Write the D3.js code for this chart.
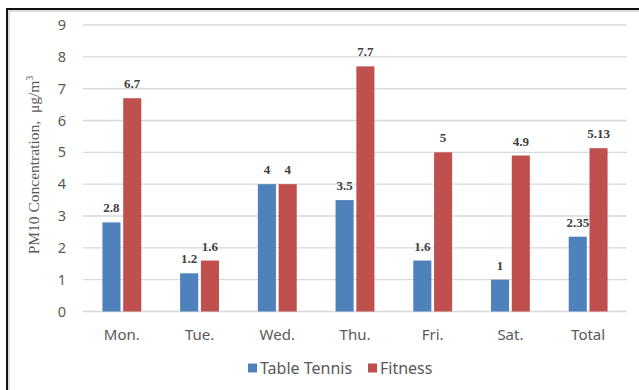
<!DOCTYPE html>
<html>

<head>
  <title>PM10 Concentration</title>
  <script src="https://cdn.jsdelivr.net/npm/d3@7"></script>
  <style>
    body {
      margin: 0;
      background: #fff;
    }

    .grid line {
      stroke: #d9d9d9;
      stroke-width: 1.3px;
    }

    .tick-label,
    .cat-label,
    .legend-label {
      font-family: "Noto Sans", "Open Sans", sans-serif;
      fill: #595959;
    }

    .bar-label {
      font-family: "Liberation Serif", "DejaVu Serif", serif;
      font-weight: bold;
      font-size: 13px;
      fill: #404040;
    }

    .y-title {
      font-family: "Liberation Serif", "DejaVu Serif", serif;
      font-size: 15.5px;
      fill: #595959;
    }
  </style>
</head>

<body>
  <div id="chart"></div>
  <script>
    const categories = ["Mon.", "Tue.", "Wed.", "Thu.", "Fri.", "Sat.", "Total"];
    const seriesNames = ["Table Tennis", "Fitness"];
    const tableTennis = [2.8, 1.2, 4, 3.5, 1.6, 1, 2.35];
    const fitness = [6.7, 1.6, 4, 7.7, 5, 4.9, 5.13];
    const yTicks = [0, 1, 2, 3, 4, 5, 6, 7, 8, 9];
    const colors = ["#4f81bd", "#c0504d"];

    const width = 639;
    const height = 390;

    const svg = d3.select("#chart").append("svg")
      .attr("width", width)
      .attr("height", height);

    // frame (only left and top edges are in view)
    svg.append("path")
      .attr("d", `M7,${height} V9 H${width}`)
      .attr("fill", "none")
      .attr("stroke", "#111")
      .attr("stroke-width", 2);
    svg.append("path")
      .attr("d", `M9,${height} V11 H${width}`)
      .attr("fill", "none")
      .attr("stroke", "#bbb")
      .attr("stroke-width", 1);

    const x = d3.scaleBand()
      .domain(categories)
      .range([83, 627])
      .paddingInner(0.5)
      .paddingOuter(0.25);

    const xs = d3.scaleBand()
      .domain(seriesNames)
      .range([0, x.bandwidth()])
      .paddingInner(0.13);

    const y = d3.scaleLinear()
      .domain([0, 9])
      .range([311.5, 25]);

    // gridlines
    svg.append("g")
      .attr("class", "grid")
      .selectAll("line")
      .data(yTicks)
      .enter().append("line")
      .attr("x1", 83)
      .attr("x2", 627)
      .attr("y1", d => y(d))
      .attr("y2", d => y(d));

    // y tick labels
    svg.append("g")
      .selectAll("text")
      .data(yTicks)
      .enter().append("text")
      .attr("class", "tick-label")
      .attr("x", 66)
      .attr("y", d => y(d))
      .attr("dy", "0.35em")
      .attr("text-anchor", "end")
      .attr("font-size", 14.5)
      .text(d => d);

    // y title
    svg.append("text")
      .attr("class", "y-title")
      .attr("transform", "translate(39,165) rotate(-90)")
      .attr("text-anchor", "middle")
      .call(t => {
        t.append("tspan").text("PM10 Concentration,\u00a0\u00a0μg/m");
        t.append("tspan").attr("font-size", 10).attr("dy", -6).text("3");
      });

    const rows = categories.map((c, i) => ({
      cat: c,
      values: [tableTennis[i], fitness[i]]
    }));

    const groups = svg.append("g")
      .selectAll("g")
      .data(rows)
      .enter().append("g")
      .attr("transform", d => `translate(${x(d.cat)},0)`);

    groups.selectAll("rect")
      .data(d => d.values.map((v, j) => ({ name: seriesNames[j], v, j })))
      .enter().append("rect")
      .attr("x", d => xs(d.name))
      .attr("width", xs.bandwidth())
      .attr("y", d => y(d.v))
      .attr("height", d => y(0) - y(d.v))
      .attr("fill", d => colors[d.j]);

    groups.selectAll("text")
      .data(d => d.values.map((v, j) => ({ name: seriesNames[j], v, j })))
      .enter().append("text")
      .attr("class", "bar-label")
      .attr("x", d => xs(d.name) + xs.bandwidth() / 2)
      .attr("y", d => y(d.v) - 10)
      .attr("text-anchor", "middle")
      .text(d => d.v);

    // category labels
    svg.append("g")
      .selectAll("text")
      .data(categories)
      .enter().append("text")
      .attr("class", "cat-label")
      .attr("x", d => x(d) + x.bandwidth() / 2)
      .attr("y", 335)
      .attr("dy", "0.35em")
      .attr("text-anchor", "middle")
      .attr("font-size", 15)
      .text(d => d);

    // legend
    const legend = svg.append("g")
      .attr("transform", "translate(248,368)");
    const legendX = [0, 120];
    seriesNames.forEach((name, i) => {
      const g = legend.append("g").attr("transform", `translate(${legendX[i]},0)`);
      g.append("rect")
        .attr("x", 0)
        .attr("y", -4.5)
        .attr("width", 9)
        .attr("height", 9)
        .attr("fill", colors[i]);
      g.append("text")
        .attr("class", "legend-label")
        .attr("x", 12)
        .attr("y", 0)
        .attr("dy", "0.35em")
        .attr("font-size", 16)
        .text(name);
    });
  </script>
</body>

</html>
